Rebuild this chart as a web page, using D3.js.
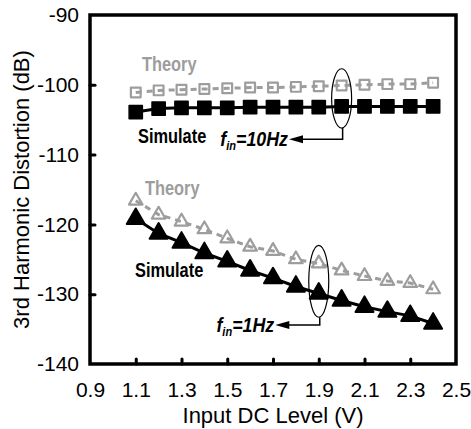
<!DOCTYPE html>
<html>
<head>
<meta charset="utf-8">
<script src="https://cdn.jsdelivr.net/npm/d3@7"></script>
<style>
  body { margin: 0; background: #fff; }
  svg, svg text { font-family: "Liberation Sans", Arial, sans-serif; }
</style>
</head>
<body>
<svg id="chart" width="471" height="429"></svg>
<script>
// input DC level (V)
var levels = [1.1, 1.2, 1.3, 1.4, 1.5, 1.6, 1.7, 1.8, 1.9, 2.0, 2.1, 2.2, 2.3, 2.4]

// 3rd harmonic distortion (dB)
var theory10 = [-101.1, -100.8, -100.7, -100.6, -100.5, -100.4, -100.4, -100.3, -100.2, -100.1, -100.0, -99.9, -99.9, -99.7]
var sim10 = [-103.9, -103.4, -103.3, -103.3, -103.3, -103.2, -103.2, -103.2, -103.2, -103.1, -103.1, -103.1, -103.1, -103.1]
var theory1 = [-116.6, -118.6, -119.6, -120.7, -122.0, -123.2, -123.8, -125.0, -125.6, -126.6, -127.4, -128.1, -128.4, -129.3]
var sim1 = [-119.2, -121.3, -122.6, -124.1, -125.3, -126.6, -127.7, -128.9, -129.9, -130.9, -131.8, -132.5, -133.1, -134.2]

var xTicks = [0.9, 1.1, 1.3, 1.5, 1.7, 1.9, 2.1, 2.3, 2.5]
var yTicks = [-140, -130, -120, -110, -100, -90]

var gray = "#9d9d9d"

var svg = d3.select("#chart")

var x = d3.scaleLinear().domain([0.9, 2.5]).range([90, 456])
var y = d3.scaleLinear().domain([-140, -90]).range([364, 15])

// axes: ticks point inward, labels outside
var xAxis = svg.append("g")
    .attr("transform", "translate(0," + y(-140) + ")")
    .call(d3.axisBottom(x).tickValues(xTicks).tickSize(-5).tickPadding(18)
        .tickFormat(function (d) { return d.toFixed(1) }))
var yAxis = svg.append("g")
    .attr("transform", "translate(" + x(0.9) + ",0)")
    .call(d3.axisLeft(y).tickValues(yTicks).tickSize(-5).tickPadding(11)
        .tickFormat(function (d) { return String(d) }))  // plain hyphen

;[xAxis, yAxis].forEach(function (ax) {
    ax.attr("font-family", null).attr("font-size", null)
    ax.select(".domain").remove()
    ax.selectAll(".tick line")
        .attr("stroke", "#000")
        .attr("stroke-width", 3)
        .attr("stroke-linecap", "round")
    ax.selectAll(".tick text")
        .attr("fill", "#000")
        .style("font-size", "21px")
})
xAxis.selectAll(".tick line").filter(function (d) { return d == 0.9 || d == 2.5 }).remove()
yAxis.selectAll(".tick line").filter(function (d) { return d == -140 || d == -90 }).remove()

// frame
svg.append("rect")
    .attr("x", x(0.9))
    .attr("y", y(-90))
    .attr("width", x(2.5) - x(0.9))
    .attr("height", y(-140) - y(-90))
    .attr("fill", "none")
    .attr("stroke", "#000")
    .attr("stroke-width", 3.5)

// axis titles
svg.append("text")
    .attr("x", (x(0.9) + x(2.5)) / 2)
    .attr("y", 423)
    .attr("text-anchor", "middle")
    .style("font-size", "22px")
    .text("Input DC Level (V)")

svg.append("text")
    .attr("transform", "translate(29," + (y(-115)) + ") rotate(-90)")
    .attr("text-anchor", "middle")
    .style("font-size", "22px")
    .text("3rd Harmonic Distortion (dB)")

// series
function pts(vals) {
    return levels.map(function (d, i) { return [d, vals[i]] })
}
var line = d3.line()
    .x(function (d) { return x(d[0]) })
    .y(function (d) { return y(d[1]) })

svg.append("path").datum(pts(theory10))
    .attr("d", line).attr("fill", "none")
    .attr("stroke", gray).attr("stroke-width", 3).attr("stroke-dasharray", "6,5")
svg.append("path").datum(pts(sim10))
    .attr("d", line).attr("fill", "none")
    .attr("stroke", "#000").attr("stroke-width", 3)
svg.append("path").datum(pts(theory1))
    .attr("d", line).attr("fill", "none")
    .attr("stroke", gray).attr("stroke-width", 3).attr("stroke-dasharray", "6,5")
svg.append("path").datum(pts(sim1))
    .attr("d", line).attr("fill", "none")
    .attr("stroke", "#000").attr("stroke-width", 3)

var square = d3.symbol().type(d3.symbolSquare)
var tri = d3.symbol().type(d3.symbolTriangle)

function markers(vals, sym, size, fill, stroke, sw) {
    svg.append("g").selectAll("path")
        .data(pts(vals))
        .enter()
        .append("path")
            .attr("transform", function (d) { return "translate(" + x(d[0]) + "," + y(d[1]) + ")" })
            .attr("d", sym.size(size))
            .attr("fill", fill)
            .attr("stroke", stroke)
            .attr("stroke-width", sw)
            .attr("stroke-linejoin", "round")
}
markers(theory10, square, 95, "none", gray, 2.2)
markers(sim10, square, 175, "#000", "#000", 1.5)
markers(theory1, tri, 80, "none", gray, 2.2)
markers(sim1, tri, 140, "#000", "#000", 2)

// series labels (narrow bold face, squeezed horizontally)
function label(txt, px, py, color) {
    svg.append("text")
        .attr("transform", "translate(" + px + "," + py + ") scale(0.82,1)")
        .attr("fill", color)
        .style("font-size", "20px")
        .style("font-weight", "bold")
        .text(txt)
}
label("Theory", 142, 71, gray)
label("Simulate", 138, 143, "#000")
label("Theory", 145, 195, gray)
label("Simulate", 135, 277, "#000")

// ellipse callouts with arrow to frequency label
function callout(xv, yTop, yBot, yLead, xTip, sub, rest) {
    var cx = x(xv), top = y(yTop), bot = y(yBot)
    var ly = y(yLead), tip = x(xTip)
    svg.append("ellipse")
        .attr("cx", cx).attr("cy", (top + bot) / 2)
        .attr("rx", 10).attr("ry", (bot - top) / 2)
        .attr("fill", "none").attr("stroke", "#000").attr("stroke-width", 1.2)
    svg.append("path")
        .attr("d", "M" + (cx + 1) + "," + bot + "V" + ly + "H" + (tip + 10))
        .attr("fill", "none").attr("stroke", "#000").attr("stroke-width", 1.5)
    svg.append("path")
        .attr("d", "M" + tip + "," + ly + "L" + (tip + 14) + "," + (ly - 4) + "L" + (tip + 14) + "," + (ly + 4) + "Z")
        .attr("fill", "#000")
    var t = svg.append("text")
        .attr("transform", "translate(" + (tip - 1) + "," + (ly + 7) + ") scale(0.85,1)")
        .attr("text-anchor", "end")
        .style("font-size", "21px")
        .style("font-weight", "bold")
        .style("font-style", "italic")
    t.append("tspan").text("f")
    t.append("tspan").attr("dy", 4).style("font-size", "13px").text(sub)
    t.append("tspan").attr("dy", -4).text(rest)
}
callout(2.0, -97.7, -106.2, -107.8, 1.77, "in", "=10Hz")
callout(1.9, -123.0, -133.3, -134.4, 1.71, "in", "=1Hz")
</script>
</body>
</html>
